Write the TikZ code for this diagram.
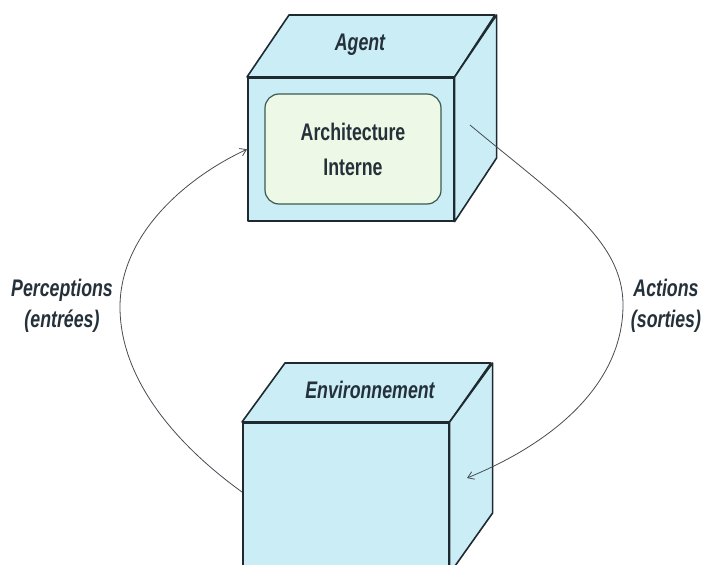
\documentclass[tikz,border=0pt]{standalone}
\usepackage{fontspec}
\newfontfamily\narrowsans[FakeStretch=0.74]{Liberation Sans}
\usetikzlibrary{arrows.meta,calc}
\definecolor{cyanfill}{HTML}{CBEEF6}
\definecolor{innerfill}{HTML}{EEF8E6}
\definecolor{innerdraw}{HTML}{3A5A50}
\definecolor{edgec}{HTML}{1E2A30}
\definecolor{txtc}{HTML}{25313A}
\definecolor{flowc}{HTML}{454C52}
\begin{document}
\begin{tikzpicture}[x=1pt,y=-1pt,
  face/.style={draw=edgec, line width=1.6pt, fill=cyanfill, line join=round},
  frontface/.style={face, inner sep=0pt, anchor=north west},
  innerbox/.style={draw=innerdraw, line width=1.2pt, fill=innerfill, rounded corners=14pt, inner sep=0pt},
  lbl/.style={font=\narrowsans\bfseries\itshape\fontsize{24}{31}\selectfont, text=txtc},
  archlbl/.style={font=\narrowsans\bfseries\fontsize{24}{35}\selectfont, text=txtc, align=center},
  flow/.style={draw=flowc, line width=0.8pt, -{Straight Barb[length=6pt,width=8pt]}}
]
\useasboundingbox (0,0) rectangle (702,565);
\clip (0,0) rectangle (702,565);

% Agent cube
\node[frontface, minimum width=206pt, minimum height=143pt] (agent) at (247,77) {};
\draw[face] (agent.north west) -- ++(42,-62) -- ++(206,0) -- (agent.north east) -- cycle;
\draw[face] (agent.north east) -- ++(42,-62) -- ++(0,143) -- (agent.south east) -- cycle;
\node[innerbox, minimum width=176pt, minimum height=110pt] (arch) at (353,149) {};
\node[archlbl] (archtxt) at (arch.center) {Architecture\\Interne};
\node[lbl] (agentlbl) at (360,45) {Agent};

% Environment cube
\node[frontface, minimum width=206pt, minimum height=150pt] (env) at (242,422) {};
\draw[face] (env.north west) -- ++(43,-59) -- ++(206,0) -- (env.north east) -- cycle;
\draw[face] (env.north east) -- ++(43,-59) -- ++(0,150) -- (env.south east) -- cycle;
\node[lbl] (envlbl) at (370,390) {Environnement};

% Connector end points
\coordinate (percin) at ($(env.north west)+(0,70)$);
\coordinate (actout) at (470,125);
\coordinate (actin) at (467,478);

% Connectors
\draw[flow] (percin) .. controls (170,440) and (120,375) .. (120,307)
  .. controls (120,235) and (185,178) .. (agent.west);
\draw[flow] (actout) .. controls (560,200) and (623,240) .. (623,305)
  .. controls (623,380) and (560,440) .. (actin);

% Labels
\node[lbl, align=center] (perc) at (62,306) {Perceptions\\(entrées)};
\node[lbl, align=center] (act) at (666,306) {Actions\\(sorties)};
\end{tikzpicture}
\end{document}
